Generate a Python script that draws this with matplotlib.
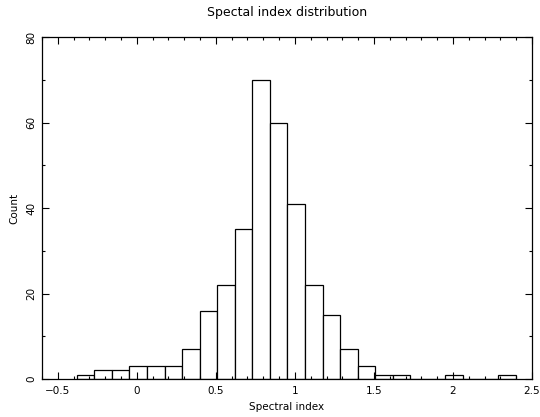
import numpy as np
import matplotlib
matplotlib.use("Agg")
import matplotlib.pyplot as plt
from matplotlib.ticker import MultipleLocator

# histogram: 25 bins from -0.38 to 2.397
bin_lo = -0.38
bin_hi = 2.397
counts = [1, 2, 2, 3, 3, 3, 7, 16, 22, 35, 70, 60, 41,
          22, 15, 7, 3, 1, 1, 0, 0, 1, 0, 0, 1]

edges = np.linspace(bin_lo, bin_hi, len(counts) + 1)
width = edges[1] - edges[0]

plt.rcParams['font.family'] = 'DejaVu Sans'
plt.rcParams['font.size'] = 7.5

fig = plt.figure(figsize=(5.4, 4.17), dpi=100)
ax = fig.add_axes([42 / 540, 1 - 379 / 417, 490 / 540, 342 / 417])

ax.bar(edges[:-1], counts, width=width, align='edge',
       facecolor='white', edgecolor='black', linewidth=0.9)

ax.set_xlim(-0.6, 2.5)
ax.set_ylim(0, 80)
ax.xaxis.set_major_locator(MultipleLocator(0.5))
ax.xaxis.set_minor_locator(MultipleLocator(0.1))
ax.yaxis.set_major_locator(MultipleLocator(20))
ax.yaxis.set_minor_locator(MultipleLocator(10))
ax.xaxis.set_major_formatter(
    plt.FuncFormatter(lambda v, p: ('%g' % v).replace('-', '\u2212')))

ax.tick_params(which='both', direction='in', top=True, right=True)
ax.tick_params(which='major', length=5, width=0.8)
ax.tick_params(which='minor', length=2.5, width=0.8)
ax.tick_params(axis='x', pad=5)
ax.tick_params(axis='y', pad=4)
for lab in ax.get_yticklabels():
    lab.set_rotation(90)
    lab.set_va('center')
for s in ax.spines.values():
    s.set_linewidth(0.9)

ax.set_title('Spectal index distribution', pad=15)
ax.set_xlabel('Spectral index', labelpad=4)
ax.set_ylabel('Count', labelpad=5)

fig.savefig('out.png', dpi=100)
